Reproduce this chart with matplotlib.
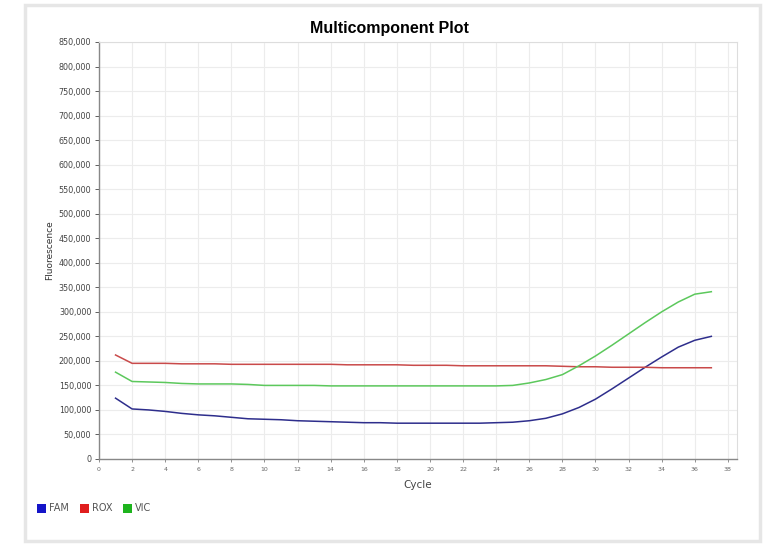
import matplotlib
matplotlib.use("Agg")
import matplotlib.pyplot as plt
from matplotlib.patches import Rectangle
from matplotlib.ticker import FuncFormatter

cycles = list(range(1, 38))

fam = [124000, 102000, 100000, 97000, 93000, 90000, 88000, 85000, 82000, 81000,
       80000, 78000, 77000, 76000, 75000, 74000, 74000, 73000, 73000, 73000,
       73000, 73000, 73000, 74000, 75000, 78000, 83000, 92000, 105000, 122000,
       143000, 165000, 187000, 208000, 228000, 242000, 250000]

rox = [212000, 195000, 195000, 195000, 194000, 194000, 194000, 193000, 193000, 193000,
       193000, 193000, 193000, 193000, 192000, 192000, 192000, 192000, 191000, 191000,
       191000, 190000, 190000, 190000, 190000, 190000, 190000, 189000, 188000, 188000,
       187000, 187000, 187000, 186000, 186000, 186000, 186000]

vic = [177000, 158000, 157000, 156000, 154000, 153000, 153000, 153000, 152000, 150000,
       150000, 150000, 150000, 149000, 149000, 149000, 149000, 149000, 149000, 149000,
       149000, 149000, 149000, 149000, 150000, 155000, 162000, 172000, 190000, 210000,
       232000, 255000, 278000, 300000, 320000, 336000, 341000]

series = ["FAM", "ROX", "VIC"]
line_colors = ["#2e2e8c", "#c94a4a", "#5cc85c"]
key_colors = ["#1414c8", "#e01e1e", "#1eb41e"]

fig = plt.figure(figsize=(7.7, 5.44), dpi=100)
fig.patch.set_facecolor("white")

# outer panel border
fig.patches.append(Rectangle((25 / 770, 3 / 544), 735 / 770, 536 / 544, transform=fig.transFigure,
                             fill=False, edgecolor="#e6e6e6", linewidth=2.5))

ax = fig.add_axes([99 / 770, 85 / 544, 638 / 770, 417 / 544])
for vals, c in zip([fam, rox, vic], line_colors):
    ax.plot(cycles, vals, color=c, linewidth=1.1)

ax.set_xlim(0, 38.55)
ax.set_ylim(0, 850000)
ax.set_xticks(range(0, 39, 2))
ax.set_yticks(range(0, 850001, 50000))
ax.yaxis.set_major_formatter(FuncFormatter(lambda v, p: f"{int(v):,}"))
ax.tick_params(axis="y", labelsize=5.8, colors="#444444", length=3, width=0.6, pad=2.5)
ax.tick_params(axis="x", labelsize=4.5, colors="#666666", length=2, width=0.5)
ax.grid(True, color="#ececec", linewidth=0.8)
ax.set_axisbelow(True)
for s in ["top", "right"]:
    ax.spines[s].set_color("#dddddd")
for s in ["left", "bottom"]:
    ax.spines[s].set_color("#888888")
    ax.spines[s].set_linewidth(1.0)

fig.text(389 / 770, (544 - 29) / 544, "Multicomponent Plot", fontsize=11.5, fontweight="bold",
         family="Liberation Sans", ha="center", va="center")
ax.set_xlabel("Cycle", fontsize=7.5, color="#444444", labelpad=6)
ax.set_ylabel("Fluorescence", fontsize=6.5, color="#333333", labelpad=3)

# legend below plot
x0 = 37
for name, c in zip(series, key_colors):
    fig.patches.append(Rectangle((x0 / 770, (544 - 513) / 544), 9 / 770, 9 / 544,
                                 transform=fig.transFigure, facecolor=c, edgecolor="none"))
    fig.text((x0 + 12) / 770, (544 - 508) / 544, name, fontsize=7, color="#555555", va="center")
    x0 += 43

fig.savefig("out.png", dpi=100)
